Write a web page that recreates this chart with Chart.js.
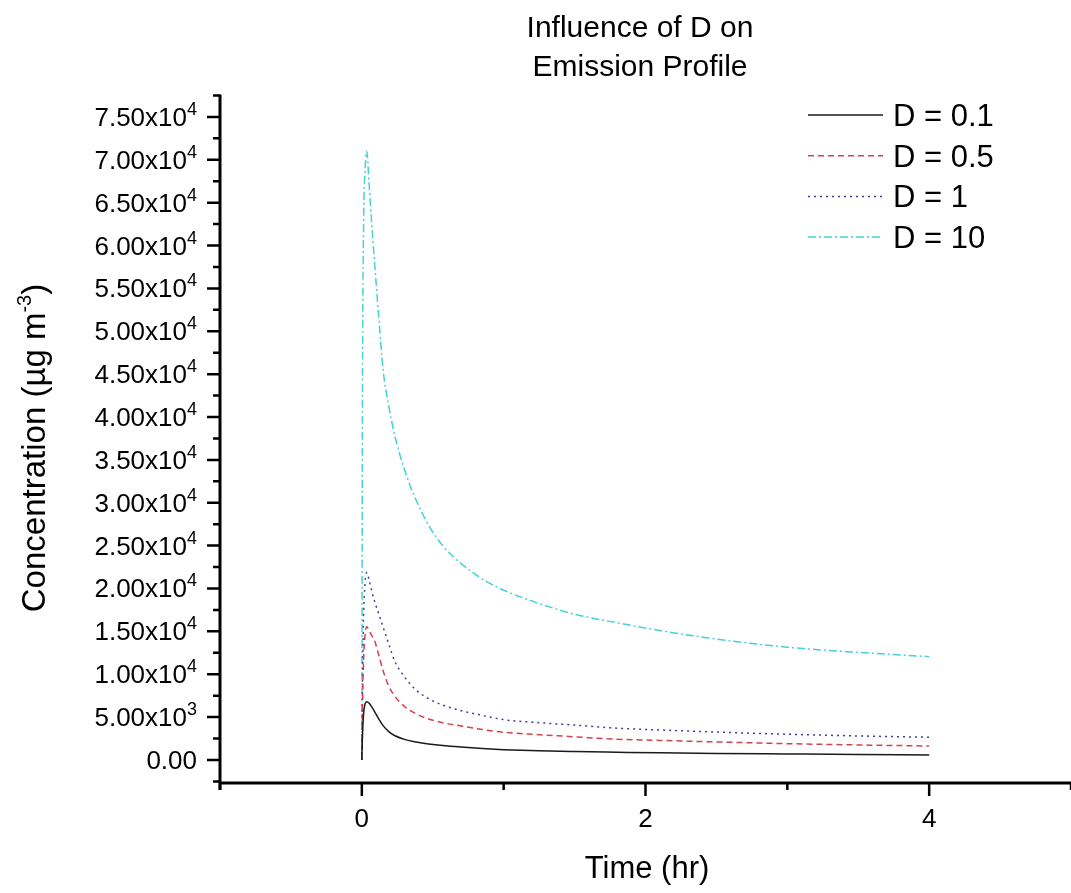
<!DOCTYPE html>
<html>
<head>
<meta charset="utf-8">
<title>Influence of D on Emission Profile</title>
<script src="https://cdn.jsdelivr.net/npm/chart.js@4.4.1/dist/chart.umd.min.js"></script>
<style>
  html, body { margin: 0; padding: 0; background: #fff; overflow: hidden; }
  #wrap { width: 1071px; height: 893px; }
</style>
</head>
<body>
<div id="wrap"><canvas id="chart" width="1071" height="893"></canvas></div>
<script>
// time (hr), shared by the four runs
const timeHr = [0, 0.004, 0.012, 0.022, 0.035, 0.05, 0.07, 0.09, 0.12, 0.15, 0.19, 0.23, 0.3, 0.38,
                0.47, 0.57, 0.7, 0.85, 1.0, 1.25, 1.5, 1.8, 2.1, 2.5, 3.0, 3.5, 4.0];

// concentration (ug m-3)
const concD01 = [0, 2500, 5300, 6500, 6800, 6650, 6200, 5650, 4750, 4000, 3300, 2850, 2400, 2090,
                 1870, 1680, 1500, 1330, 1200, 1060, 975, 900, 830, 760, 700, 640, 590];
const concD05 = [0, 5500, 11500, 14500, 15550, 15100, 14500, 13900, 12200, 10400, 8600, 7500, 6250, 5400,
                 4780, 4350, 3960, 3550, 3230, 2950, 2700, 2420, 2280, 2100, 1900, 1750, 1630];
const concD1 = [0, 8000, 16500, 20500, 21850, 21100, 19700, 18500, 17000, 15500, 13500, 11600, 9700, 8200,
                7150, 6400, 5750, 5200, 4700, 4350, 4070, 3700, 3500, 3250, 3000, 2800, 2650];
const concD10 = [0, 40000, 62000, 68500, 71000, 67500, 62500, 58000, 51500, 45500, 41300, 38000, 33900, 30400,
                 27400, 25000, 22900, 21100, 19800, 18250, 17000, 16000, 15100, 14100, 13150, 12550, 12050];

const seriesLabels = ["D = 0.1", "D = 0.5", "D = 1", "D = 10"];

// axis ticks
const xMajorTicks = [0, 2, 4];
const xMinorTicks = [-1, 1, 3, 5];
const yMajorTicks = [0, 5000, 10000, 15000, 20000, 25000, 30000, 35000, 40000, 45000, 50000,
                     55000, 60000, 65000, 70000, 75000];
const yMinorTicks = [-2500, 2500, 7500, 12500, 17500, 22500, 27500, 32500, 37500, 42500, 47500,
                     52500, 57500, 62500, 67500, 72500, 77500];

const FONT = '"Liberation Sans", Arial, Helvetica, sans-serif';

const toPoints = arr => timeHr.map((t, i) => ({ x: t, y: arr[i] }));

// "7.50x10^4" style label, drawn right aligned with a raised exponent
const drawYLabel = (ctx, v, right, py) => {
  ctx.textAlign = "left";
  ctx.textBaseline = "alphabetic";
  if (v === 0) {
    ctx.font = "26px " + FONT;
    const w = ctx.measureText("0.00").width;
    ctx.fillText("0.00", right - w, py + 9);
    return;
  }
  const exp = Math.floor(Math.log10(v));
  const mant = (v / Math.pow(10, exp)).toFixed(2) + "x10";
  ctx.font = "18px " + FONT;
  const ws = ctx.measureText(String(exp)).width;
  ctx.fillText(String(exp), right - ws, py - 2);
  ctx.font = "26px " + FONT;
  const wm = ctx.measureText(mant).width;
  ctx.fillText(mant, right - ws - wm, py + 9);
};

const originAxes = {
  id: "originAxes",
  afterDraw(chart) {
    const { ctx, chartArea: a, scales: { x, y } } = chart;
    ctx.save();
    ctx.strokeStyle = "#000";
    ctx.fillStyle = "#000";
    ctx.lineCap = "butt";

    // axis lines
    ctx.lineWidth = 3;
    ctx.beginPath();
    ctx.moveTo(a.left, y.getPixelForValue(77500) - 1);
    ctx.lineTo(a.left, a.bottom + 7);
    ctx.moveTo(a.left - 1.5, a.bottom);
    ctx.lineTo(chart.width + 5, a.bottom);
    ctx.stroke();

    // tick marks
    ctx.lineWidth = 2.5;
    ctx.beginPath();
    yMajorTicks.forEach(v => {
      const py = y.getPixelForValue(v);
      ctx.moveTo(a.left - 13, py); ctx.lineTo(a.left, py);
    });
    yMinorTicks.forEach(v => {
      const py = y.getPixelForValue(v);
      ctx.moveTo(a.left - 7, py); ctx.lineTo(a.left, py);
    });
    xMajorTicks.forEach(v => {
      const px = x.getPixelForValue(v);
      ctx.moveTo(px, a.bottom); ctx.lineTo(px, a.bottom + 13);
    });
    xMinorTicks.forEach(v => {
      const px = x.getPixelForValue(v);
      ctx.moveTo(px, a.bottom); ctx.lineTo(px, a.bottom + 7);
    });
    ctx.stroke();

    // tick labels
    yMajorTicks.forEach(v => drawYLabel(ctx, v, 197, y.getPixelForValue(v)));
    ctx.font = "26px " + FONT;
    ctx.textAlign = "center";
    ctx.textBaseline = "alphabetic";
    xMajorTicks.forEach(v => ctx.fillText(String(v), x.getPixelForValue(v), 827));

    // x title
    ctx.font = "31px " + FONT;
    ctx.fillText("Time (hr)", 647, 878);

    // y title, rotated, with superscript -3
    ctx.save();
    ctx.translate(45, 448);
    ctx.rotate(-Math.PI / 2);
    ctx.font = "33px " + FONT;
    const main = "Concentration (\u00b5g m";
    const wMain = ctx.measureText(main).width;
    ctx.font = "20px " + FONT;
    const wSup = ctx.measureText("-3").width;
    ctx.font = "33px " + FONT;
    const wEnd = ctx.measureText(")").width;
    const sx = -(wMain + wSup + wEnd) / 2;
    ctx.textAlign = "left";
    ctx.fillText(main, sx, 0);
    ctx.font = "20px " + FONT;
    ctx.fillText("-3", sx + wMain, -14);
    ctx.font = "33px " + FONT;
    ctx.fillText(")", sx + wMain + wSup, 0);
    ctx.restore();

    // chart title
    ctx.font = "30px " + FONT;
    ctx.textAlign = "center";
    ctx.fillText("Influence of D on", 640, 37);
    ctx.fillText("Emission Profile", 640, 76);

    // legend
    chart.data.datasets.forEach((ds, i) => {
      const ly = 115 + i * 40.7;
      ctx.strokeStyle = ds.borderColor;
      ctx.lineWidth = 1.5;
      ctx.setLineDash(ds.borderDash || []);
      ctx.beginPath();
      ctx.moveTo(808, ly); ctx.lineTo(883, ly);
      ctx.stroke();
      ctx.setLineDash([]);
      ctx.fillStyle = "#000";
      ctx.font = "31px " + FONT;
      ctx.textAlign = "left";
      ctx.fillText(ds.label, 893, ly + 11);
    });

    ctx.restore();
  }
};

new Chart(document.getElementById("chart"), {
  type: "line",
  data: {
    datasets: [
      { label: seriesLabels[0], data: toPoints(concD01), borderColor: "#1a1a1a", borderDash: [] },
      { label: seriesLabels[1], data: toPoints(concD05), borderColor: "#d4414c", borderDash: [6, 4] },
      { label: seriesLabels[2], data: toPoints(concD1), borderColor: "#3f3f9a", borderDash: [2, 4] },
      { label: seriesLabels[3], data: toPoints(concD10), borderColor: "#45d2d6", borderDash: [8, 3, 2, 3] }
    ]
  },
  options: {
    responsive: false,
    animation: false,
    events: [],
    layout: { padding: { left: 220, right: 0, top: 95.5, bottom: 109.9 } },
    elements: {
      line: { borderWidth: 1.5, cubicInterpolationMode: "monotone", fill: false },
      point: { radius: 0 }
    },
    plugins: { legend: { display: false }, tooltip: { enabled: false }, title: { display: false } },
    scales: {
      x: { type: "linear", display: false, min: -1, max: 5 },
      y: { type: "linear", display: false, min: -2700, max: 77500 }
    }
  },
  plugins: [originAxes]
});
</script>
</body>
</html>
